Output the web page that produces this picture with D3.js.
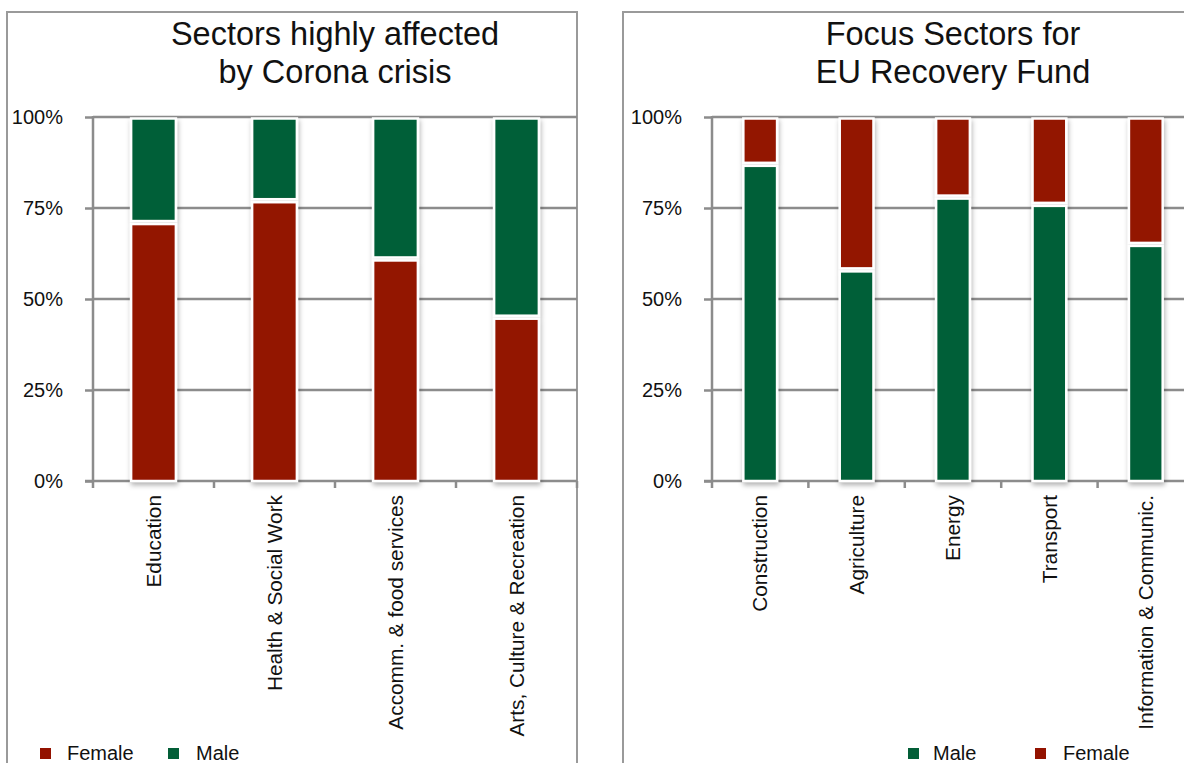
<!DOCTYPE html>
<html>
<head>
<meta charset="utf-8">
<script src="https://cdn.jsdelivr.net/npm/d3@7"></script>
<style>
  html, body { margin: 0; padding: 0; background: #fff; }
  svg { display: block; font-family: "Liberation Sans", Arial, Helvetica, sans-serif; }
</style>
</head>
<body>
<svg id="chart" width="1184" height="763"></svg>
<script>
// ---- data ----
const leftCategories = ["Education", "Health & Social Work", "Accomm. & food services", "Arts, Culture & Recreation"];
const leftFemale = [0.71, 0.77, 0.61, 0.45];
const leftTitle = ["Sectors highly affected", "by Corona crisis"];

const rightCategories = ["Construction", "Agriculture", "Energy", "Transport", "Information & Communic."];
const rightMale = [0.87, 0.58, 0.78, 0.76, 0.65];
const rightTitle = ["Focus Sectors for", "EU Recovery Fund"];

const yTicks = [0, 0.25, 0.5, 0.75, 1];

const RED = "#931200";
const GREEN = "#025e37";
const GRID = "#8c8c8c";

const svg = d3.select("#chart");

const defs = svg.append("defs");
const f = defs.append("filter").attr("id", "shadow")
  .attr("x", "-30%").attr("y", "-10%").attr("width", "160%").attr("height", "125%");
f.append("feDropShadow").attr("dx", 1).attr("dy", 3).attr("stdDeviation", 2.5)
  .attr("flood-color", "#000").attr("flood-opacity", 0.3);

function panel(opts) {
  const g = svg.append("g");
  g.append("rect")
    .attr("x", opts.frame[0]).attr("y", opts.frame[1])
    .attr("width", opts.frame[2]).attr("height", opts.frame[3])
    .attr("fill", "none").attr("stroke", "#9a9a9a").attr("stroke-width", 2);

  const x = d3.scaleBand().domain(opts.categories).range([opts.x0, opts.x1])
    .paddingInner(opts.pad).paddingOuter(opts.pad / 2);
  const y = d3.scaleLinear().domain([0, 1]).range([481, 117]);

  const cx = (opts.x0 + opts.x1) / 2;
  g.append("text").attr("x", cx).attr("y", 45).attr("text-anchor", "middle")
    .attr("font-size", 32.5).attr("fill", "#111").text(opts.title[0]);
  g.append("text").attr("x", cx).attr("y", 83).attr("text-anchor", "middle")
    .attr("font-size", 32.5).attr("fill", "#111").text(opts.title[1]);

  g.append("g").selectAll("line").data(yTicks.filter(d => d > 0)).join("line")
    .attr("x1", opts.x0).attr("x2", opts.x1)
    .attr("y1", d => y(d)).attr("y2", d => y(d))
    .attr("stroke", GRID).attr("stroke-width", 2.5);

  const yAxis = d3.axisLeft(y).tickValues(yTicks).tickFormat(d3.format(".0%"))
    .tickSize(8).tickPadding(22);
  const ya = g.append("g").attr("transform", `translate(${opts.x0},0)`).call(yAxis);
  ya.select(".domain").remove();
  ya.selectAll(".tick line").attr("stroke", GRID).attr("stroke-width", 2.5);
  ya.selectAll(".tick text").attr("font-size", 20).attr("fill", "#111")
    .attr("font-family", "Liberation Sans, Arial, sans-serif");
  g.append("line").attr("x1", opts.x0).attr("x2", opts.x0).attr("y1", 116).attr("y2", 488)
    .attr("stroke", GRID).attr("stroke-width", 2.5);

  g.append("line").attr("x1", opts.x0 - 8).attr("x2", opts.x1)
    .attr("y1", y(0)).attr("y2", y(0)).attr("stroke", GRID).attr("stroke-width", 2.5);
  const step = x.step();
  const bounds = opts.categories.map((c, i) => x(c) - x.paddingInner() * step / 2 + step);
  g.append("g").selectAll("line").data(bounds).join("line")
    .attr("x1", d => d).attr("x2", d => d).attr("y1", y(0)).attr("y2", y(0) + 7)
    .attr("stroke", GRID).attr("stroke-width", 2.5);

  const bars = g.append("g");
  opts.categories.forEach((c, i) => {
    const v = opts.bottom[i];
    const bg = bars.append("g").attr("filter", "url(#shadow)");
    bg.append("rect")
      .attr("x", x(c)).attr("width", x.bandwidth())
      .attr("y", y(v) + 1.5).attr("height", y(0) - y(v) - 1.5)
      .attr("fill", opts.bottomColor).attr("stroke", "#fff").attr("stroke-width", 2.5);
    bg.append("rect")
      .attr("x", x(c)).attr("width", x.bandwidth())
      .attr("y", y(1) + 1.5).attr("height", y(v) - y(1) - 3)
      .attr("fill", opts.topColor).attr("stroke", "#fff").attr("stroke-width", 2.5);
  });

  g.append("g").selectAll("text").data(opts.categories).join("text")
    .attr("transform", d => `translate(${x(d) + x.bandwidth() / 2},495) rotate(-90)`)
    .attr("text-anchor", "end").attr("dy", "0.35em")
    .attr("font-size", 20.8).attr("fill", "#111").text(d => d);

  const lg = g.append("g");
  opts.legend.forEach(l => {
    lg.append("rect").attr("x", l.sx).attr("y", 748).attr("width", 11).attr("height", 11).attr("fill", l.color);
    lg.append("text").attr("x", l.tx).attr("y", 760).attr("font-size", 20).attr("fill", "#111").text(l.label);
  });
}

panel({
  frame: [7, 12, 570, 800],
  categories: leftCategories, bottom: leftFemale,
  bottomColor: RED, topColor: GREEN,
  x0: 93, x1: 577, pad: 0.63,
  title: leftTitle,
  legend: [
    { sx: 40, tx: 67, color: RED, label: "Female" },
    { sx: 168, tx: 196, color: GREEN, label: "Male" }
  ]
});

panel({
  frame: [623, 12, 620, 800],
  categories: rightCategories, bottom: rightMale,
  bottomColor: GREEN, topColor: RED,
  x0: 712, x1: 1194, pad: 0.65,
  title: rightTitle,
  legend: [
    { sx: 908, tx: 933, color: GREEN, label: "Male" },
    { sx: 1035, tx: 1063, color: RED, label: "Female" }
  ]
});
</script>
</body>
</html>
